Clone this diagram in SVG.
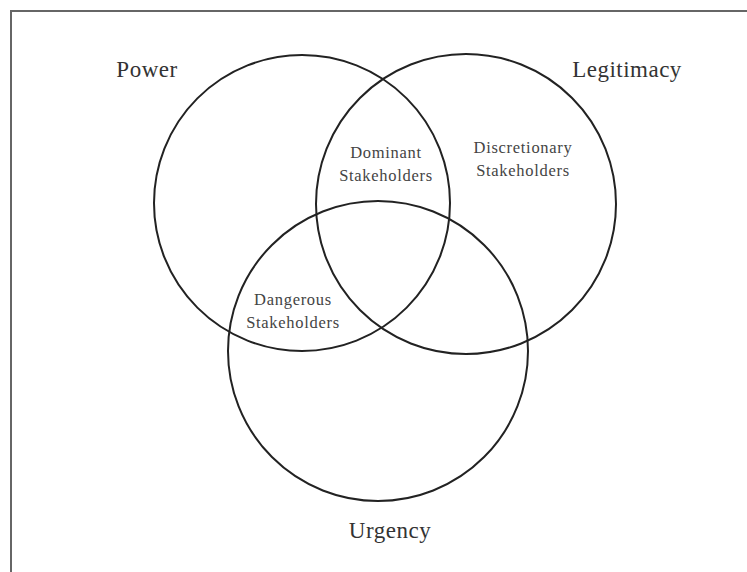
<svg xmlns="http://www.w3.org/2000/svg" width="747" height="572" viewBox="0 0 747 572">
  <style>
    .frame { stroke: #666; stroke-width: 2; fill: none; }
    .set { fill: none; stroke: #222; stroke-width: 2; }
    .title { font-family: "Liberation Serif", "Times New Roman", serif; font-size: 23px; letter-spacing: 0.5px; fill: #333; text-anchor: middle; }
    .region { font-family: "Liberation Serif", "Times New Roman", serif; font-size: 16.5px; letter-spacing: 0.7px; fill: #444; text-anchor: middle; }
  </style>
  <rect width="747" height="572" fill="#fff"/>
  <!-- frame: top and left edges -->
  <path class="frame" d="M11 572 V11 H747"/>

  <g id="power">
    <circle class="set" cx="302" cy="203" r="148"/>
    <text class="title" x="147" y="77">Power</text>
  </g>
  <g id="legitimacy">
    <circle class="set" cx="466" cy="204" r="150"/>
    <text class="title" x="627" y="77">Legitimacy</text>
  </g>
  <g id="urgency">
    <circle class="set" cx="378" cy="351" r="150"/>
    <text class="title" x="390" y="538">Urgency</text>
  </g>

  <g id="dominant">
    <text class="region" x="386" y="158">Dominant</text>
    <text class="region" x="386" y="181">Stakeholders</text>
  </g>
  <g id="discretionary">
    <text class="region" x="523" y="153">Discretionary</text>
    <text class="region" x="523" y="176">Stakeholders</text>
  </g>
  <g id="dangerous">
    <text class="region" x="293" y="305">Dangerous</text>
    <text class="region" x="293" y="328">Stakeholders</text>
  </g>

  <g id="connectors"/>
</svg>
